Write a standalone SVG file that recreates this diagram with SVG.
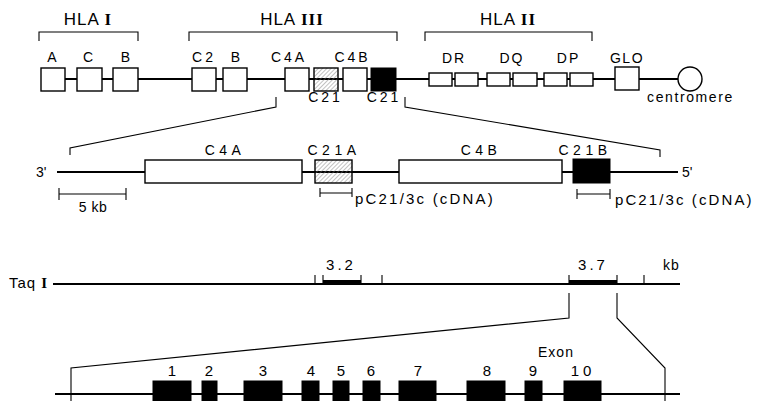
<svg xmlns="http://www.w3.org/2000/svg" width="758" height="401" viewBox="0 0 758 401">
<defs>
<pattern id="hatch" patternUnits="userSpaceOnUse" width="3" height="3" patternTransform="rotate(45)"><line x1="0" y1="0" x2="0" y2="3" stroke="#777" stroke-width="0.9"/></pattern>
</defs>
<style>
text{font-family:"Liberation Sans",Arial,sans-serif;fill:#000}
.lbl{font-size:14px;letter-spacing:3px;text-anchor:middle}
.lb2{font-size:14px;letter-spacing:4.5px;text-anchor:middle}
.hla{font-size:17px;letter-spacing:1px;text-anchor:middle}
.rn{font-family:"Liberation Serif","Times New Roman",serif;font-weight:bold}
.sm{font-size:14px;letter-spacing:1.5px}
.num{font-size:15px;letter-spacing:2px;text-anchor:middle}
.box{fill:#fff;stroke:#000;stroke-width:1.4}
.blk{fill:#000;stroke:#000;stroke-width:1}
.hat{fill:url(#hatch);stroke:#000;stroke-width:1.4}
.ln{stroke:#000;stroke-width:2;fill:none}
.th{stroke:#000;stroke-width:1.1;fill:none}
.bar{stroke:#000;stroke-width:4;fill:none}
</style>
<rect width="758" height="401" fill="#fff"/>

<g id="connectors">
  <path class="ln" d="M53 79H678"/>
  <path class="th" d="M39 41V32H138V41M189 41V32H397V41M425 41V32H592V41"/>
  <path class="th" d="M276 97V107L70 148V155M405 97V107L660 150V157"/>
  <path class="ln" d="M57 172H678"/>
  <path class="th" d="M59 194H126M59 188V200M126 188V200"/>
  <path class="th" d="M320 193H352M320 188V197M352 188V197"/>
  <path class="th" d="M577 194H610M577 189V199M610 189V199"/>
  <path class="ln" d="M53 284H680"/>
  <path class="bar" d="M323 282H361M569 282H617"/>
  <path class="th" d="M315 275V284M323 275V284M361 275V284M382 275V284M569 275V284M617 275V284M644 275V284"/>
  <path class="th" d="M569 293V318L71 368V401M617 293V318L665 368V401"/>
  <path class="ln" d="M55 394H680"/>
</g>

<g id="hla-labels">
  <text class="hla" x="88" y="25">HLA <tspan class="rn">I</tspan></text>
  <text class="hla" x="292" y="25">HLA <tspan class="rn">III</tspan></text>
  <text class="hla" x="508" y="25">HLA <tspan class="rn">II</tspan></text>
</g>

<g id="gene-A"><rect class="box" x="41" y="68" width="24" height="23"/><text class="lbl" x="53.5" y="62">A</text></g>
<g id="gene-C"><rect class="box" x="77" y="68" width="25" height="23"/><text class="lbl" x="89.5" y="62">C</text></g>
<g id="gene-B1"><rect class="box" x="113" y="68" width="25" height="23"/><text class="lbl" x="127" y="62">B</text></g>
<g id="gene-C2"><rect class="box" x="192" y="68" width="24" height="23"/><text class="lbl" x="204" y="62">C2</text></g>
<g id="gene-B2"><rect class="box" x="223" y="68" width="24" height="23"/><text class="lbl" x="237" y="62">B</text></g>
<g id="gene-C4A"><rect class="box" x="285" y="68" width="24" height="23"/><text class="lbl" x="289" y="62">C4A</text></g>
<g id="gene-C21A"><rect class="hat" x="314" y="68" width="24" height="23"/><text class="lbl" x="325.5" y="102">C21</text></g>
<g id="gene-C4B"><rect class="box" x="343" y="68" width="24" height="23"/><text class="lbl" x="352.5" y="62">C4B</text></g>
<g id="gene-C21B"><rect class="blk" x="371" y="68" width="25" height="23"/><text class="lbl" x="384" y="102">C21</text></g>
<g id="gene-DR"><rect class="box" x="429" y="73" width="23" height="13"/><rect class="box" x="455" y="73" width="23" height="13"/><text class="lbl" x="454" y="63" style="letter-spacing:2px">DR</text></g>
<g id="gene-DQ"><rect class="box" x="487" y="73" width="23" height="13"/><rect class="box" x="513" y="73" width="24" height="13"/><text class="lbl" x="512" y="63" style="letter-spacing:2px">DQ</text></g>
<g id="gene-DP"><rect class="box" x="544" y="73" width="23" height="13"/><rect class="box" x="570" y="73" width="23" height="13"/><text class="lbl" x="568.5" y="63" style="letter-spacing:2px">DP</text></g>
<g id="gene-GLO"><rect class="box" x="615" y="67" width="24" height="23"/><text class="lbl" x="627" y="63" style="letter-spacing:1.5px">GLO</text></g>
<g id="centromere"><circle cx="690" cy="79" r="12" fill="#fff" stroke="#000" stroke-width="1.4"/><text class="sm" x="690.5" y="102" text-anchor="middle" style="letter-spacing:1.6px">centromere</text></g>

<g id="detail-ends"><text x="36" y="177" font-size="14">3'</text><text x="682" y="177" font-size="14">5'</text></g>
<g id="det-C4A"><rect class="box" x="145" y="160" width="157" height="23"/><text class="lb2" x="225" y="155">C4A</text></g>
<g id="det-C21A"><rect class="hat" x="315" y="160" width="37" height="23"/><text class="lb2" x="334" y="155">C21A</text></g>
<g id="det-C4B"><rect class="box" x="399" y="160" width="163" height="23"/><text class="lb2" x="481" y="155">C4B</text></g>
<g id="det-C21B"><rect class="blk" x="573" y="159" width="37" height="24"/><text class="lb2" x="585" y="155">C21B</text></g>
<g id="scale"><text class="sm" x="93" y="212" text-anchor="middle" style="letter-spacing:0.5px">5 kb</text></g>
<g id="probe-A"><text class="sm" x="355" y="204" style="font-size:15px;letter-spacing:2.2px">pC21/3c (cDNA)</text></g>
<g id="probe-B"><text class="sm" x="615" y="205" style="font-size:15px;letter-spacing:2.1px">pC21/3c (cDNA)</text></g>

<g id="taq"><text x="9" y="288" font-size="15" style="letter-spacing:1px">Taq <tspan class="rn">I</tspan></text>
  <text class="num" x="341" y="270" style="letter-spacing:3px">3.2</text>
  <text class="num" x="593" y="270" style="letter-spacing:3px">3.7</text>
  <text class="sm" x="663" y="270" style="letter-spacing:1px">kb</text></g>

<g id="exons">
  <text class="sm" x="556" y="357" text-anchor="middle" style="letter-spacing:1px">Exon</text>
  <g id="exon1"><rect class="blk" x="153" y="381" width="38" height="22"/><text class="num" x="173" y="376">1</text></g>
  <g id="exon2"><rect class="blk" x="202" y="381" width="15" height="22"/><text class="num" x="210" y="376">2</text></g>
  <g id="exon3"><rect class="blk" x="244" y="381" width="38" height="22"/><text class="num" x="264" y="376">3</text></g>
  <g id="exon4"><rect class="blk" x="302" y="381" width="17" height="22"/><text class="num" x="312" y="376">4</text></g>
  <g id="exon5"><rect class="blk" x="333" y="381" width="16" height="22"/><text class="num" x="342" y="376">5</text></g>
  <g id="exon6"><rect class="blk" x="363" y="381" width="17" height="22"/><text class="num" x="372" y="376">6</text></g>
  <g id="exon7"><rect class="blk" x="399" y="381" width="37" height="22"/><text class="num" x="419" y="376">7</text></g>
  <g id="exon8"><rect class="blk" x="467" y="381" width="38" height="22"/><text class="num" x="488" y="376">8</text></g>
  <g id="exon9"><rect class="blk" x="525" y="381" width="17" height="22"/><text class="num" x="534" y="376">9</text></g>
  <g id="exon10"><rect class="blk" x="564" y="381" width="37" height="22"/><text class="num" x="583" y="376" style="letter-spacing:4px">10</text></g>
</g>
</svg>
